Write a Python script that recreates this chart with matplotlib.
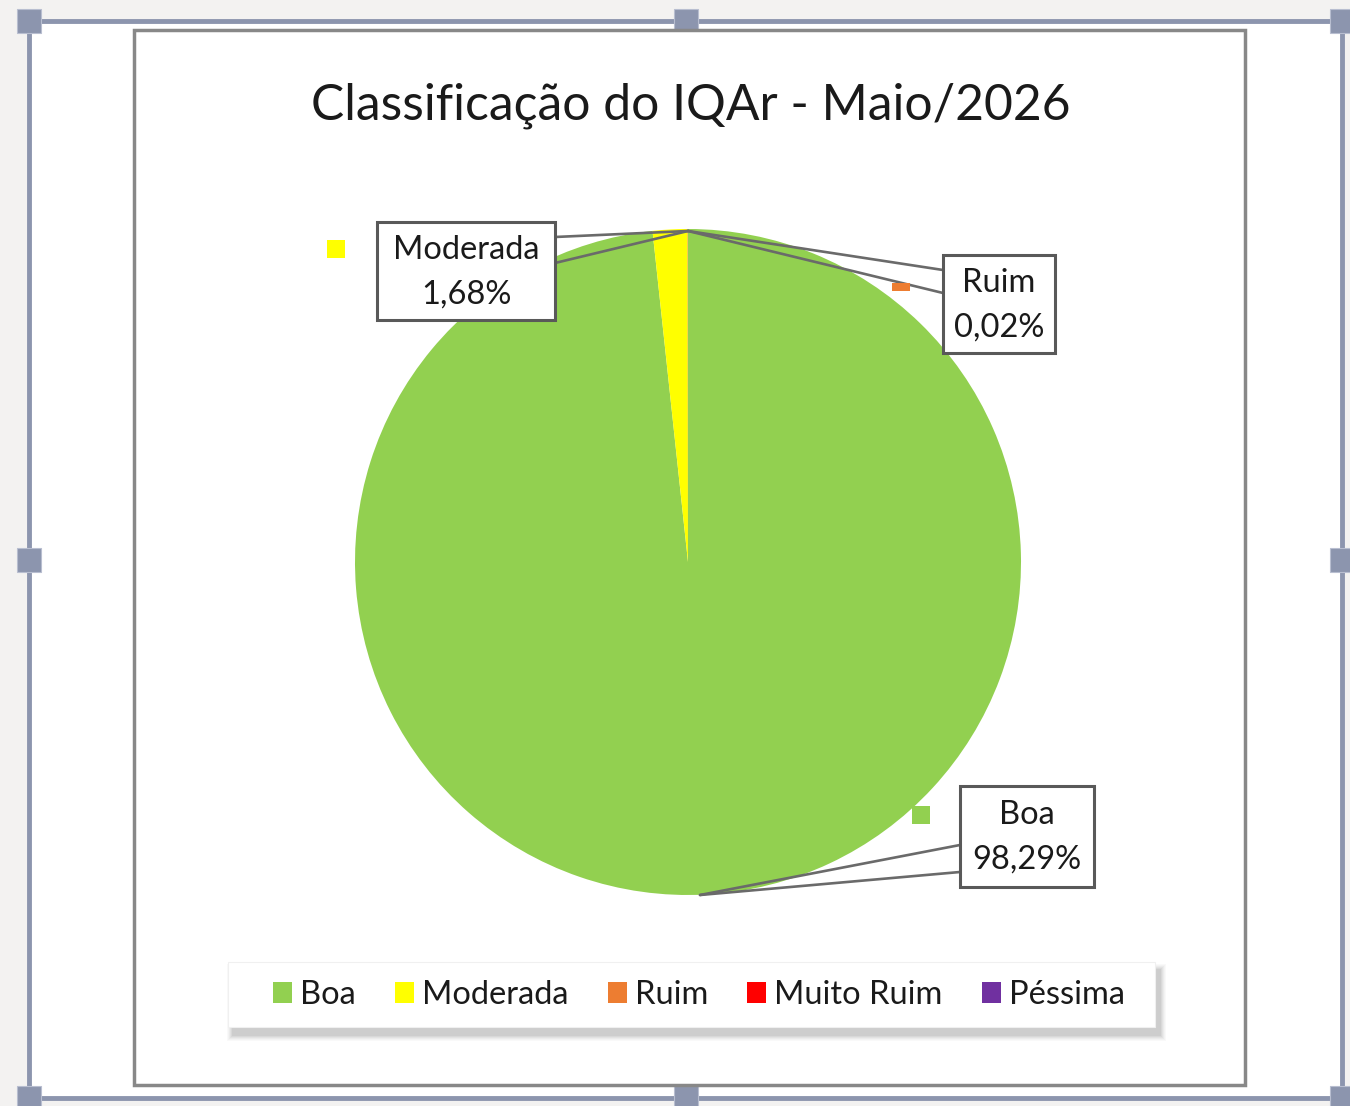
import matplotlib
matplotlib.use("Agg")
import matplotlib.pyplot as plt
from matplotlib.patches import Rectangle

# ---- data ----
categories = ["Boa", "Moderada", "Ruim", "Muito Ruim", "Péssima"]
values = [98.29, 1.68, 0.02, 0.0, 0.0]
colors = ["#92D050", "#FFFF00", "#ED7D31", "#FF0000", "#7030A0"]
label_texts = ["98,29%", "1,68%", "0,02%", "", ""]
title = "Classificação do IQAr - Maio/2026"

plt.rcParams['font.family'] = ['Lato', 'DejaVu Sans']

W, H = 1350, 1106
fig = plt.figure(figsize=(W / 100, H / 100), dpi=100)
fig.patch.set_facecolor("#F3F2F1")

# background / frame axes in pixel coords
bg = fig.add_axes([0, 0, 1, 1], zorder=0)
bg.set_xlim(0, W); bg.set_ylim(H, 0); bg.axis("off")
sel = "#8C95AE"
bg.add_patch(Rectangle((29, 21), 1313, 1077, facecolor="white", edgecolor=sel, lw=3.5))
for hx in (29, 686, 1342):
    for hy in (21, 560, 1098):
        if hx == 686 and hy == 560:
            continue
        bg.add_patch(Rectangle((hx - 12, hy - 12), 24, 24, facecolor=sel, edgecolor="#B8BED0", lw=0.8))
bg.add_patch(Rectangle((134, 30), 1111, 1055, facecolor="white", edgecolor="#888888", lw=2.5))
bg.text(691, 106, title, ha="center", va="center", fontsize=35.8, color="#1a1a1a")

# legend box with soft shadow
lx0, ly0, lw_, lh_ = 228, 962, 927, 65
for k, a in enumerate([0.035, 0.045, 0.055, 0.07, 0.085, 0.10]):
    g = 6 - k
    bg.add_patch(Rectangle((lx0 + 5 - g, ly0 + 8 - g), lw_ + 2 * g, lh_ + 2 * g,
                           facecolor="#707070", edgecolor="none", alpha=a, zorder=5))
bg.add_patch(Rectangle((lx0, ly0), lw_, lh_, facecolor="white", edgecolor="#f0f0f0", lw=0.8, zorder=6))

# pie axes
cx, cy, r = 688, 562, 333
ax = fig.add_axes([(cx - r) / W, (H - cy - r) / H, 2 * r / W, 2 * r / H], zorder=1)
wedges, _ = ax.pie(values, colors=colors, startangle=90, counterclock=False,
                   radius=1.0, wedgeprops=dict(linewidth=0))
ax.set_xlim(-1, 1); ax.set_ylim(-1, 1); ax.set_aspect("equal")
ax.axis("off")

# overlay axes for labels / legend
ov = fig.add_axes([0, 0, 1, 1], zorder=2)
ov.set_xlim(0, W); ov.set_ylim(H, 0); ov.axis("off"); ov.patch.set_alpha(0)

lc = "#6A6A6A"
leaders = [
    ((688, 231), (555, 237), (555, 263)),   # Moderada
    ((688, 231), (943, 270), (943, 293)),   # Ruim
    ((700, 895), (960, 845), (960, 872)),   # Boa
]
for p0, p1, p2 in leaders:
    ov.plot([p0[0], p1[0]], [p0[1], p1[1]], color=lc, lw=1.9, solid_capstyle="round")
    ov.plot([p0[0], p2[0]], [p0[1], p2[1]], color=lc, lw=1.9, solid_capstyle="round")

boxes = {  # category index -> (x0, y0, w, h)
    1: (377, 222, 178, 98),
    2: (943, 255, 112, 98),
    0: (960, 786, 134, 101),
}
keys = {1: (327, 240, 18, 18), 2: (892, 283, 18, 8), 0: (912, 806, 18, 18)}
for i, (x0, y0, w, h) in boxes.items():
    ov.add_patch(Rectangle((x0, y0), w, h, facecolor="white", edgecolor="#595959", lw=2.2, zorder=3))
    ov.text(x0 + w / 2, y0 + h / 2 + 1, f"{categories[i]}\n{label_texts[i]}", ha="center", va="center",
            fontsize=23.5, color="#1a1a1a", linespacing=1.62, zorder=4)
    kx, ky, kw, kh = keys[i]
    ov.add_patch(Rectangle((kx, ky), kw, kh, facecolor=colors[i], edgecolor="none", zorder=3))

# legend entries (frame drawn above)
handles = [Rectangle((0, 0), 1, 1, facecolor=c, edgecolor="none") for c in colors]
leg = ov.legend(handles, categories, loc="center", bbox_to_anchor=(699 / W, 1 - 995 / H),
                bbox_transform=fig.transFigure, ncol=5, fontsize=23.5, frameon=False,
                handlelength=0.58, handleheight=0.58, handletextpad=0.25, columnspacing=1.2,
                borderpad=0, borderaxespad=0)
for t in leg.get_texts():
    t.set_color("#1a1a1a")

fig.savefig("out.png", dpi=100, facecolor=fig.get_facecolor())
